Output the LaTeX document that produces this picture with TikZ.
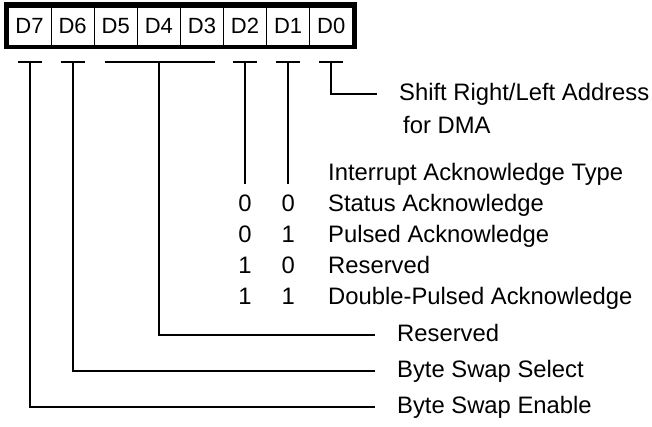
\documentclass[tikz,border=0pt]{standalone}
\usepackage{fontspec}
\setmainfont{Liberation Sans}
\usetikzlibrary{positioning,fit,calc}

\begin{document}
\begin{tikzpicture}[x=1pt, y=-1pt, node distance=0pt,
    bitcell/.style={draw, line width=0.8pt, outer sep=0pt, inner sep=0pt, minimum width=43.1pt, minimum height=38pt, font=\fontsize{22}{26}\selectfont},
    field/.style={anchor=west, inner sep=0pt, text height=17.5pt, text depth=5.2pt, font=\fontsize{23.8}{28}\selectfont},
    digit/.style={field, anchor=center},
    lead/.style={line width=2pt}]
      \useasboundingbox (0,0) rectangle (652,427);
      % register
      \node[bitcell, anchor=north west] (b7) at (8,7) {D7};
      \node[bitcell, right=of b7] (b6) {D6};
      \node[bitcell, right=of b6] (b5) {D5};
      \node[bitcell, right=of b5] (b4) {D4};
      \node[bitcell, right=of b4] (b3) {D3};
      \node[bitcell, right=of b3] (b2) {D2};
      \node[bitcell, right=of b2] (b1) {D1};
      \node[bitcell, right=of b1] (b0) {D0};
      \node[draw, line width=4.5pt, inner sep=2.25pt, fit=(b7)(b0)] (reg) {};
      % field texts
      \node[field] (shift) at (399,94) {Shift Right/Left Address};
      \node[field] (dma) at (403,127) {for DMA};
      \node[field] (type) at (328,174) {Interrupt Acknowledge Type};
      \node[field, below right=8pt and 0pt of type.south west] (status) {Status Acknowledge};
      \node[field, below right=8pt and 0pt of status.south west] (pulsed) {Pulsed Acknowledge};
      \node[field, below right=8pt and 0pt of pulsed.south west] (resvack) {Reserved};
      \node[field, below right=8pt and 0pt of resvack.south west] (double) {Double-Pulsed Acknowledge};
      \node[field] (reserved) at (397,335) {Reserved};
      \node[field] (select) at (397,371) {Byte Swap Select};
      \node[field] (enable) at (397,407) {Byte Swap Enable};
      % D2 D1 codes
      \node[digit] (s2) at (b2.center |- status.west) {0};
      \node[digit] (s1) at (b1.center |- status.west) {0};
      \node[digit] (p2) at (b2.center |- pulsed.west) {0};
      \node[digit] (p1) at (b1.center |- pulsed.west) {1};
      \node[digit] (r2) at (b2.center |- resvack.west) {1};
      \node[digit] (r1) at (b1.center |- resvack.west) {0};
      \node[digit] (d2) at (b2.center |- double.west) {1};
      \node[digit] (d1) at (b1.center |- double.west) {1};
      % bars under the bits
      \coordinate (t7) at ([yshift=-17pt]b7.south);
      \coordinate (t6) at ([yshift=-17pt]b6.south);
      \coordinate (t5) at ([yshift=-17pt]b5.south);
      \coordinate (t4) at ([yshift=-17pt]b4.south);
      \coordinate (t3) at ([yshift=-17pt]b3.south);
      \coordinate (t2) at ([yshift=-17pt]b2.south);
      \coordinate (t1) at ([yshift=-17pt]b1.south);
      \coordinate (t0) at ([yshift=-17pt]b0.south);
      \draw[lead] ([xshift=-12pt]t7) -- ([xshift=12pt]t7);
      \draw[lead] ([xshift=-12pt]t6) -- ([xshift=12pt]t6);
      \draw[lead] ([xshift=-11pt]t5) -- ([xshift=13pt]t3);
      \draw[lead] ([xshift=-12pt]t2) -- ([xshift=12pt]t2);
      \draw[lead] ([xshift=-12pt]t1) -- ([xshift=12pt]t1);
      \draw[lead] ([xshift=-12pt]t0) -- ([xshift=12pt]t0);
      % leads
      \draw[lead, shorten >=22pt] (t0) |- (shift.west);
      \draw[lead, shorten >=10pt] (t2) -- (s2.north);
      \draw[lead, shorten >=10pt] (t1) -- (s1.north);
      \draw[lead, shorten >=22pt] (t4) |- (reserved.west);
      \draw[lead, shorten >=22pt] (t6) |- (select.west);
      \draw[lead, shorten >=22pt] (t7) |- (enable.west);
    \end{tikzpicture}
\end{document}
